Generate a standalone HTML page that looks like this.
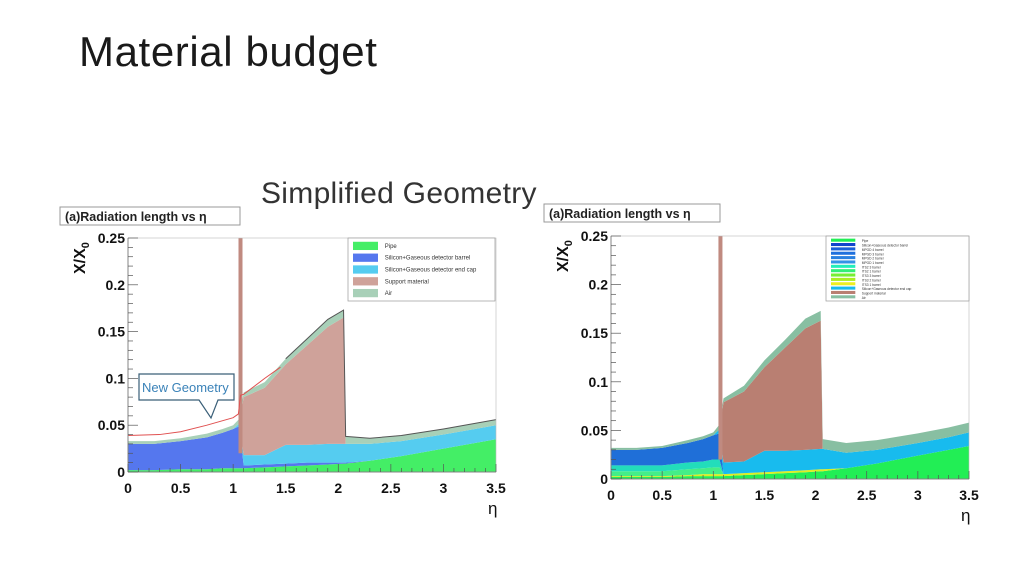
<!DOCTYPE html>
<html><head><meta charset="utf-8">
<style>
html,body{margin:0;padding:0;background:#fff;}
body{width:1024px;height:576px;position:relative;overflow:hidden;font-family:"Liberation Sans",sans-serif;}
#title{position:absolute;left:79px;top:28px;font-size:42px;color:#1a1a1a;margin:0;font-weight:normal;letter-spacing:0.6px;}
#sub{position:absolute;left:261px;top:177px;font-size:30px;color:#333;letter-spacing:0.3px;}
svg{position:absolute;left:0;top:0;}
</style></head>
<body>
<h1 id="title">Material budget</h1>
<div id="sub">Simplified Geometry</div>
<svg id="cv" width="1024" height="576"></svg>
<script>
// ---- shared data ----
const etaCats = [0,0.25,0.5,0.75,0.9,1.0,1.06,1.1,1.3,1.5,1.7,1.9,2.05,2.07,2.3,2.6,3.0,3.3,3.5];
const xTicks = [0,0.5,1,1.5,2,2.5,3,3.5];
const xTickLabels = ["0","0.5","1","1.5","2","2.5","3","3.5"];
const yTicks = [0,0.05,0.1,0.15,0.2,0.25];
const yTickLabels = ["0","0.05","0.1","0.15","0.2","0.25"];
// left chart series (stacked)
const pipeL    = [0.002,0.002,0.003,0.003,0.004,0.004,0.004,0.004,0.005,0.006,0.007,0.008,0.009,0.009,0.012,0.017,0.025,0.031,0.035];
const barrelL  = [0.028,0.028,0.030,0.034,0.038,0.042,0.045,0.003,0.003,0.003,0.003,0.002,0.001,0.001,0,0,0,0,0];
const endcapL  = [0,0,0,0,0,0,0.003,0.011,0.010,0.020,0.019,0.020,0.020,0.020,0.018,0.016,0.015,0.015,0.015];
const supportL = [0,0,0,0,0,0,0,0.062,0.072,0.086,0.106,0.125,0.135,0,0,0,0,0,0];
const airL     = [0.003,0.003,0.003,0.004,0.004,0.004,0.005,0.005,0.006,0.006,0.007,0.008,0.008,0.008,0.006,0.006,0.006,0.006,0.006];
const spikeEta = [1.07]; const spikeVal = [0.25];
const newGeoEta = [0,0.3,0.5,0.75,1.0,1.05,1.07,1.1,1.3,1.45];
const newGeoVal = [0.039,0.04,0.043,0.05,0.058,0.062,0.082,0.083,0.1,0.112];
// right chart series
const pipeR   = [0.002,0.002,0.002,0.003,0.003,0.003,0.003,0.003,0.004,0.005,0.006,0.007,0.008,0.008,0.011,0.016,0.024,0.030,0.034];
const itsYR   = [0.001,0.001,0.001,0.001,0.002,0.002,0.002,0.002,0.002,0.002,0.002,0.002,0.002,0.002,0,0,0,0,0];
const itsGR   = [0.005,0.005,0.005,0.006,0.006,0.007,0.007,0,0,0,0,0,0,0,0,0,0,0,0];
const itsTR   = [0.006,0.006,0.006,0.007,0.007,0.008,0.008,0,0,0,0,0,0,0,0,0,0,0,0];
const mpgdR   = [0.016,0.016,0.018,0.020,0.023,0.025,0.027,0,0,0,0,0,0,0,0,0,0,0,0];
const endcapR = [0,0,0,0,0,0,0.004,0.012,0.012,0.022,0.021,0.021,0.021,0.021,0.016,0.014,0.013,0.013,0.014];
const supportR= [0,0,0,0,0,0,0,0.062,0.072,0.086,0.106,0.125,0.132,0,0,0,0,0,0];
const airR    = [0.002,0.002,0.002,0.003,0.003,0.003,0.005,0.004,0.006,0.007,0.008,0.010,0.010,0.010,0.010,0.010,0.010,0.010,0.010];

const NS="http://www.w3.org/2000/svg";
const cv=document.getElementById('cv');
function mk(tag,attrs,parent){const e=document.createElementNS(NS,tag);for(const k in attrs)e.setAttribute(k,attrs[k]);(parent||cv).appendChild(e);return e;}

function chart(cfg){
  const g=mk('g',{});
  
  
  const X=v=>cfg.x0+(v/3.5)*(cfg.x1-cfg.x0);
  const Y=v=>cfg.y0-(v/0.25)*(cfg.y0-cfg.y1);
  let base=etaCats.map(()=>0);
  cfg.series.forEach(s=>{
    const top=base.map((b,i)=>b+s.vals[i]);
    let d='M'+etaCats.map((e,i)=>X(e)+','+Y(top[i])).join(' L');
    for(let i=etaCats.length-1;i>=0;i--) d+=' L'+X(etaCats[i])+','+Y(base[i]);
    const p=mk('path',{d:d+'Z',fill:s.color,stroke:'none'},g);
    
    
    base=top;
  });
  spikeEta.forEach((e,i)=>{
    const r=mk('rect',{x:X(e)-2,y:Y(spikeVal[i]),width:4,height:Y(0.02)-Y(spikeVal[i]),fill:'#c08a80'},g);
    
    
  });
  if(cfg.outline){
    let d='M'+etaCats.map((e,i)=>X(e)+','+Y(base[i])).filter((_,i)=>etaCats[i]>=1.5).join(' L');
    const l=mk('path',{d:d,fill:'none',stroke:'#555',"stroke-width":1},g);
    
    
    const r=mk('path',{d:'M'+newGeoEta.map((e,i)=>X(e)+','+Y(newGeoVal[i])).join(' L'),fill:'none',stroke:'#e05050',"stroke-width":1},g);
    
    
  }
  mk('line',{x1:cfg.x0,y1:cfg.y0,x2:cfg.x1,y2:cfg.y0,stroke:'#333'},g);
  mk('line',{x1:cfg.x0,y1:cfg.y0,x2:cfg.x0,y2:cfg.y1,stroke:'#333'},g);
  mk('rect',{x:cfg.x0,y:cfg.y1,width:cfg.x1-cfg.x0,height:cfg.y0-cfg.y1,fill:'none',stroke:'#bbb',"stroke-width":0.6},g);
  for(let v=0;v<=0.2501;v+=0.01){const big=Math.abs(v/0.05-Math.round(v/0.05))<1e-6;mk('line',{x1:cfg.x0,x2:cfg.x0+(big?10:5),y1:Y(v),y2:Y(v),stroke:'#555',"stroke-width":0.7},g);}
  for(let v=0;v<=3.501;v+=0.1){const big=Math.abs(v/0.5-Math.round(v/0.5))<1e-6;mk('line',{x1:X(v),x2:X(v),y1:cfg.y0,y2:cfg.y0-(big?8:4),stroke:'#555',"stroke-width":0.7},g);}
  yTicks.forEach((v,i)=>{const t=mk('text',{x:cfg.x0-3,y:Y(v)+5,"text-anchor":'end',"font-size":14,"font-weight":'bold',fill:'#111'},g);t.textContent=yTickLabels[i];
    
    });
  xTicks.forEach((v,i)=>{const t=mk('text',{x:X(v),y:cfg.y0+21,"text-anchor":'middle',"font-size":14,"font-weight":'bold',fill:'#111'},g);t.textContent=xTickLabels[i];
    
    });
  const xt=mk('text',{x:cfg.x1-8,y:cfg.y0+42,"font-size":17,fill:'#111'},g);xt.textContent='η';
  
  
  const yt=mk('text',{transform:`translate(${cfg.x0-43},${cfg.y1+36}) rotate(-90)`,"font-size":16,"font-weight":'bold',fill:'#111'},g);
  yt.innerHTML='X/X<tspan font-size="11" dy="4">0</tspan>';
  
  
  const hb=mk('rect',{x:cfg.hx,y:cfg.hy,width:cfg.hw,height:18,fill:'#fff',stroke:'#999'},g);
  
  
  const ht=mk('text',{x:cfg.hx+5,y:cfg.hy+14,"font-size":12.5,"font-weight":'bold',fill:'#222'},g);ht.textContent='(a)Radiation length vs  η';
  
  
  const lg=mk('g',{},g);
  
  
  mk('rect',{x:cfg.lx,y:cfg.ly,width:cfg.lw,height:cfg.lh,fill:'#fff',stroke:'#999',"stroke-width":0.7},lg);
  const n=cfg.legend.length,step=(cfg.lh-4)/n;
  cfg.legend.forEach((it,i)=>{
    const yy=cfg.ly+2+i*step;
    const sw=mk('rect',{x:cfg.lx+5,y:yy+step*0.15,width:cfg.lw*0.17,height:step*0.7,fill:it[1]},lg);
    
    
    const t=mk('text',{x:cfg.lx+cfg.lw*0.25,y:yy+step*0.5+2,"font-size":Math.min(6,step*0.75),fill:'#333'},lg);t.textContent=it[0];
    
    
  });
}

chart({name:'left-chart',x0:128,x1:496,y0:472,y1:238,outline:true,hx:60,hy:207,hw:180,
  lx:348,ly:238,lw:147,lh:63,
  series:[{name:'pipe-area',vals:pipeL,color:'#44ee66'},{name:'barrel-area',vals:barrelL,color:'#5577ee'},{name:'endcap-area',vals:endcapL,color:'#55ccf0'},{name:'support-area',vals:supportL,color:'#cfa29a'},{name:'air-area',vals:airL,color:'#a8d0b8'}],
  legend:[['Pipe','#44ee66'],['Silicon+Gaseous detector barrel','#5577ee'],['Silicon+Gaseous detector end cap','#55ccf0'],['Support material','#cfa29a'],['Air','#a8d0b8']]});

chart({name:'right-chart',x0:611,x1:969,y0:479,y1:236,outline:false,hx:544,hy:204,hw:176,
  lx:826,ly:236,lw:143,lh:65,
  series:[{name:'pipe-area',vals:pipeR,color:'#22ee55'},{name:'its-yellow-area',vals:itsYR,color:'#ddee22'},{name:'its-green-area',vals:itsGR,color:'#44ee88'},{name:'its-teal-area',vals:itsTR,color:'#22ddbb'},{name:'mpgd-area',vals:mpgdR,color:'#1f6fd8'},{name:'endcap-area',vals:endcapR,color:'#18bbee'},{name:'support-area',vals:supportR,color:'#b97f72'},{name:'air-area',vals:airR,color:'#88bfa2'}],
  legend:[['Pipe','#22ee55'],['Silicon+Gaseous detector barrel','#1144cc'],['MPGD 4 barrel','#1a5fd8'],['MPGD 3 barrel','#1f70dd'],['MPGD 2 barrel','#2a80e0'],['MPGD 1 barrel','#3392e6'],['ITS2 3 barrel','#22eebb'],['ITS2 1 barrel','#33ee77'],['ITS3 3 barrel','#77ee33'],['ITS3 2 barrel','#aaee22'],['ITS3 1 barrel','#eeee22'],['Silicon+Gaseous detector end cap','#18bbee'],['Support material','#b97f72'],['Air','#88bfa2']]});

const co=mk('g',{});


mk('path',{d:'M139,374 L234,374 L234,400 L218,400 L211,418 L199,400 L139,400 Z',fill:'#fff',stroke:'#3a5f78',"stroke-width":1.2},co);
const ct=mk('text',{x:142,y:392,"font-size":13,fill:'#3a82b8'},co);ct.textContent='New Geometry';
</script>
</body></html>
